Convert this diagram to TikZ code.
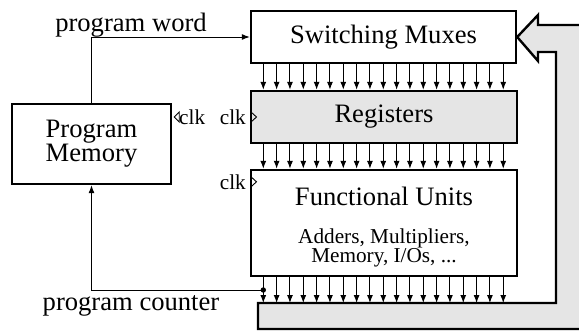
\documentclass[tikz,border=0pt]{standalone}
\usepackage{fontspec}
\setmainfont{Liberation Serif}
\usetikzlibrary{arrows.meta,calc}
\definecolor{fillgray}{HTML}{E5E5E5}
\tikzset{
  big/.style={font=\fontsize{26.7}{23}\selectfont},
  small/.style={font=\fontsize{21.3}{17}\selectfont},
  blk/.style={draw, line width=2.4bp, inner sep=0pt, align=center},
  wire/.style={line width=1bp},
  arr/.style={wire, -{Latex[length=8bp,width=6bp]}},
  clktri/.style={line width=0.9bp},
  txt/.style={inner sep=0pt},
}
\begin{document}
\begin{tikzpicture}[x=1bp,y=-1bp]
\useasboundingbox (0,0) rectangle (579,331);
\clip (0,0) rectangle (579,331);

% blocks
\node[blk, big, minimum width=265bp, minimum height=52bp] (mux) at (383.5,37) {Switching Muxes};
\node[blk, big, fill=fillgray, minimum width=266bp, minimum height=52bp] (reg) at (384,117) {Registers};
\node[blk, minimum width=266bp, minimum height=106bp] (fu) at (384,223) {};
\node[txt, big, anchor=base] (futitle) at (384,205) {Functional Units};
\node[txt, small, anchor=center, align=center] (fusub) at (384,248) {Adders, Multipliers,\\Memory, I/Os, ...};
\node[blk, big, minimum width=159bp, minimum height=80bp] (pm) at (91.5,144) {Program\\Memory};

% feedback bus (gray arrow)
\coordinate (bar) at (258,303);
\draw[line width=2.4bp, fill=fillgray, line join=miter]
  (bar) -- (556,303) -- (556,52) -- (538,52) -- (538,61) -- (mux.east)
  -- (538,15) -- (538,25) -- (600,25) -- (600,329) -- (258,329) -- cycle;

% bus arrows
\foreach \i in {0,...,18} {
  \coordinate (c\i) at ({263.3+13.33*\i},0);
  \draw[arr] (c\i |- mux.south) -- (c\i |- reg.north);
  \draw[arr] (c\i |- reg.south) -- (c\i |- fu.north);
  \draw[arr] (c\i |- fu.south) -- (c\i |- bar);
}

% program word
\draw[arr] (pm.north) |- (mux.west);
\node[txt, big, anchor=base] (pwl) at (131,31) {program word};

% program counter
\coordinate (pc) at (263.3,290);
\draw[arr] (pc) -| (pm.south);
\fill (pc) circle (2.7bp);
\node[txt, big, anchor=base] (pcl) at (131,310) {program counter};

% clocks
\draw[clktri] ($(pm.east |- reg.west)+(2,0)$) -- ++(5,-5) -- ++(0,10) -- cycle;
\node[txt, small, anchor=base west] (clkpm) at (179,124) {clk};
\draw[clktri] ($(reg.west)+(1.2,-5)$) -- ++(5.5,5) -- ++(-5.5,5);
\node[txt, small, anchor=base east] (clkreg) at (246,124) {clk};
\draw[clktri] ($(fu.north west)+(1.2,8)$) -- ++(5.5,5) -- ++(-5.5,5);
\node[txt, small, anchor=base east] (clkfu) at (246,189) {clk};
\end{tikzpicture}
\end{document}
